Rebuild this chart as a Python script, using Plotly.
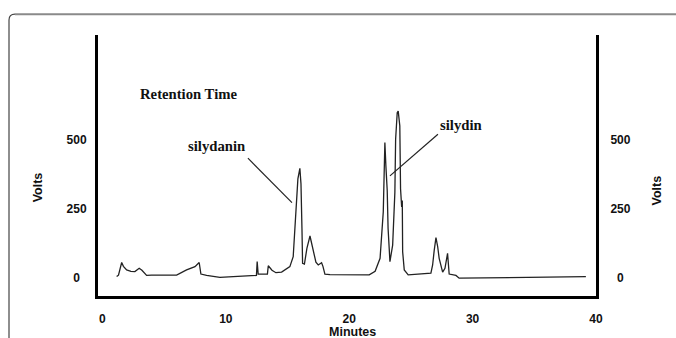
import plotly.graph_objects as go

# ---- data ----
minutes = [1.15, 1.30, 1.56, 1.70, 1.96, 2.31, 2.63, 2.98, 3.20, 3.58, 3.99, 6.01, 6.82, 7.50, 7.84,
           7.98, 8.44, 8.95, 9.52, 10.60, 12.36, 12.48, 12.54, 12.62, 13.37, 13.44, 13.74, 14.06,
           14.52, 14.95, 15.19, 15.46, 15.60, 15.74, 15.84, 16.00, 16.09, 16.17, 16.22, 16.37,
           16.57, 16.82, 16.95, 17.14, 17.30, 17.49, 17.76, 17.87, 18.03, 18.44, 21.62, 22.10,
           22.50, 22.76, 22.84, 22.89, 22.97, 23.08, 23.15, 23.30, 23.52, 23.70, 23.76, 23.89,
           23.97, 24.10, 24.16, 24.25, 24.30, 24.33, 24.46, 24.78, 26.62, 26.76, 26.89, 27.03,
           27.17, 27.29, 27.57, 27.76, 27.97, 28.10, 28.65, 28.91, 39.18]
volts = [4, 9, 55, 41, 28, 23, 22, 34, 27, 8, 9, 9, 28, 40, 55,
         13, 8, 4, 1, 4, 8, 8, 58, 13, 13, 43, 27, 18,
         20, 31, 40, 76, 178, 322, 358, 396, 340, 178, 52, 49,
         106, 151, 124, 77, 56, 46, 54, 41, 13, 11, 10, 23,
         70, 239, 478, 490, 406, 316, 178, 58, 118, 310, 502, 598,
         604, 550, 322, 256, 280, 94, 28, 10, 16, 46, 100, 145,
         112, 70, 20, 34, 88, 13, 8, -2, 4]

x_ticks = [0, 10, 20, 30, 40]
y_ticks = [0, 250, 500]
y_tick_text = ["\u20070\u2007", "250", "500"]

labels = ["Retention Time", "silydanin", "silydin"]
label_x = [7.01, 9.24, 29.09]
label_y = [664, 477, 555]

# leader lines: (x0, y0, x1, y1) in data units
leaders = [(11.79, 433, 15.36, 272), (27.19, 520, 23.30, 369)]

# ---- layout geometry (pixels) ----
W, H = 676, 338
L, R, T, B = 98, 596, 35, 298


def px(xp):
    return (xp - L) / (R - L)


def py(yp):
    return (B - yp) / (B - T)


fig = go.Figure()
fig.add_trace(go.Scatter(x=minutes, y=volts, mode="lines",
                         line=dict(color="#222222", width=1.3),
                         showlegend=False, hoverinfo="skip"))
# empty trace so the right-hand axis is drawn
fig.add_trace(go.Scatter(x=[None], y=[None], yaxis="y2", mode="lines",
                         showlegend=False, hoverinfo="skip"))

tickfont = dict(family="Liberation Sans, Arial", size=12, color="#111111", weight="bold")

fig.update_layout(
    width=W, height=H,
    margin=dict(l=L, r=W - R, t=T, b=H - B),
    paper_bgcolor="white", plot_bgcolor="white",
    showlegend=False,
    xaxis=dict(range=[-0.36, 40], tickvals=x_ticks, ticktext=[str(v) for v in x_ticks],
               showgrid=False, zeroline=False, showline=True, linecolor="black", linewidth=3,
               ticks="outside", ticklen=10, tickcolor="rgba(0,0,0,0)", tickfont=tickfont),
    yaxis=dict(range=[-66.5, 879.5], tickvals=y_ticks, ticktext=y_tick_text,
               showgrid=False, zeroline=False, showline=True, linecolor="black", linewidth=3,
               ticks="outside", ticklen=6, tickcolor="rgba(0,0,0,0)", tickfont=tickfont),
    yaxis2=dict(range=[-66.5, 879.5], tickvals=y_ticks, ticktext=y_tick_text,
                overlaying="y", side="right", anchor="x",
                showgrid=False, zeroline=False, showline=True, linecolor="black", linewidth=3,
                ticks="outside", ticklen=9, tickcolor="rgba(0,0,0,0)", tickfont=tickfont),
)

serif = dict(family="Liberation Serif, Times New Roman", size=14.7, color="#111111", weight="bold")
for t, x, y in zip(labels, label_x, label_y):
    fig.add_annotation(x=x, y=y, xref="x", yref="y", text=t, showarrow=False,
                       xanchor="center", yanchor="middle", font=serif)

for (x0, y0, x1, y1) in leaders:
    fig.add_shape(type="line", xref="x", yref="y", x0=x0, y0=y0, x1=x1, y1=y1,
                  line=dict(color="#222222", width=1.2))

sans = dict(family="Liberation Sans, Arial", size=12.5, color="#111111", weight="bold")
fig.add_annotation(x=px(37.5), y=py(189), xref="paper", yref="paper", text="Volts",
                   textangle=-90, showarrow=False, xanchor="center", yanchor="middle", font=sans)
fig.add_annotation(x=px(657), y=py(191.7), xref="paper", yref="paper", text="Volts",
                   textangle=-90, showarrow=False, xanchor="center", yanchor="middle", font=sans)
fig.add_annotation(x=px(352), y=py(334), xref="paper", yref="paper", text="Minutes",
                   showarrow=False, xanchor="center", yanchor="middle", font=sans)

# outer rounded frame
fig.add_shape(type="path", xref="paper", yref="paper",
              path=f"M {px(9)},{py(345)} L {px(9)},{py(20)} Q {px(9)},{py(14)} {px(15)},{py(14)}",
              line=dict(color="#444444", width=1.2))
fig.add_shape(type="path", xref="paper", yref="paper",
              path=f"M {px(15)},{py(14)} L {px(690)},{py(14)}",
              line=dict(color="#8a8a8a", width=2))

fig.write_html("out.html", config={"displayModeBar": False},
               post_script="document.body.style.margin='0px';document.body.style.overflow='hidden';")
